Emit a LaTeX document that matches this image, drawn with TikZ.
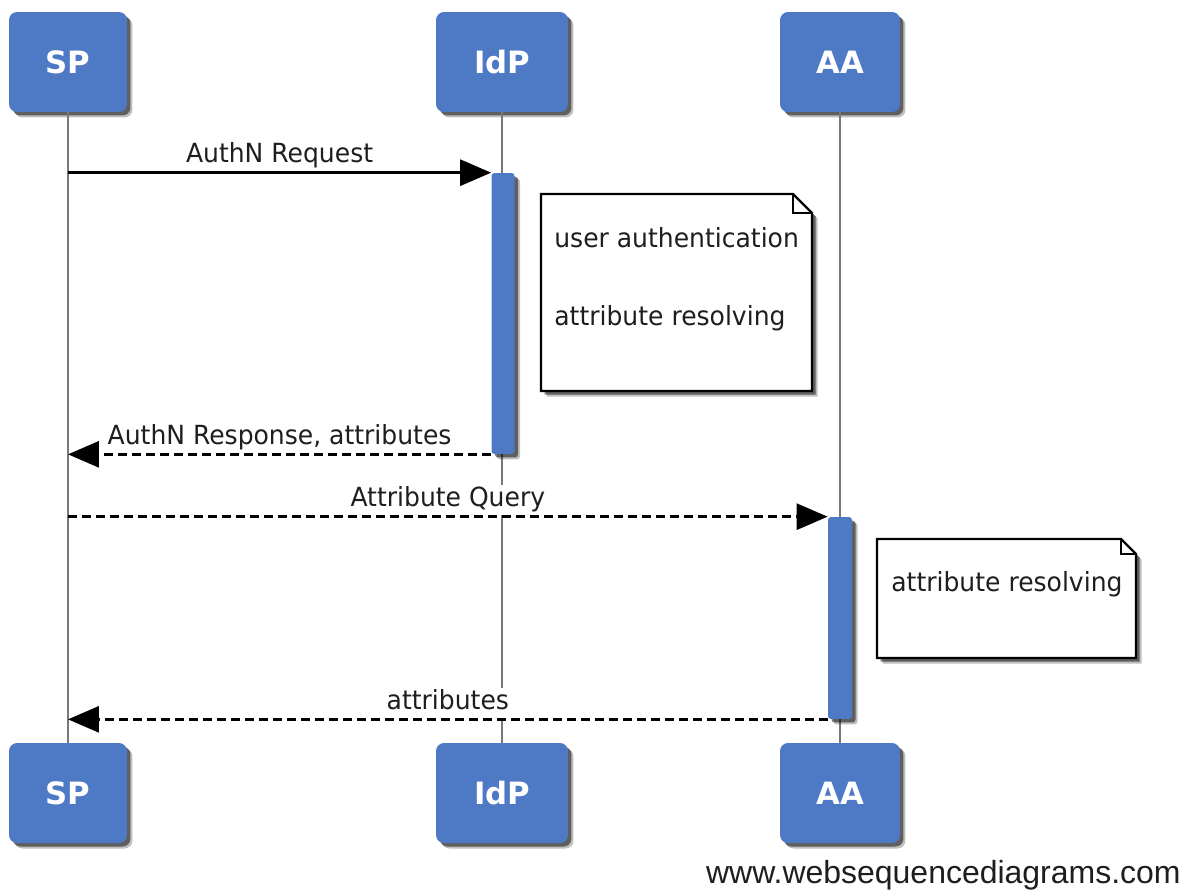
\documentclass[tikz,border=0pt]{standalone}
\usepackage{fontspec}
\setmainfont{DejaVu Sans}
\newfontfamily\msgfont{DejaVu Sans}[FakeStretch=0.95]
\newfontfamily\webfont{Liberation Sans}
\usetikzlibrary{arrows.meta,shadows}
\definecolor{actblue}{RGB}{78,121,197}
\definecolor{lifegray}{RGB}{120,120,120}
\definecolor{txt}{RGB}{30,30,30}
\tikzset{
  shadowed/.style={drop shadow={shadow xshift=0.11cm, shadow yshift=-0.11cm, fill=black, opacity=0.25},
                   drop shadow={shadow xshift=0.07cm, shadow yshift=-0.07cm, fill=black, opacity=0.5}},
  actor/.style={shadowed, fill=actblue, rounded corners=0.16cm, minimum height=2cm, inner sep=0pt,
    text=white, font=\bfseries\fontsize{17.5}{20}\selectfont},
  lifeline/.style={draw=lifegray, line width=0.04cm},
  actbar/.style={shadowed, fill=actblue, rounded corners=0.06cm, inner sep=0pt, minimum width=0.46cm},
  msg/.style={line width=0.06cm, -{Triangle[length=0.62cm,width=0.52cm]}},
  reply/.style={msg, dash pattern=on 0.18cm off 0.1cm},
  msglabel/.style={anchor=south, fill=white, inner sep=0.04cm, text height=11pt, text depth=3.7pt,
    text=txt, font=\msgfont\fontsize{15}{18}\selectfont},
  notebox/.style={shadowed, draw=black, fill=white, line width=0.045cm},
  notefold/.style={draw=black, line width=0.035cm},
  notetext/.style={anchor=base west, inner sep=0pt, text=txt, font=\msgfont\fontsize{15}{18}\selectfont},
}
\begin{document}
\begin{tikzpicture}[x=0.02cm, y=-0.02cm]
\useasboundingbox (0,0) rectangle (1187,890);
\fill[white] (0,0) rectangle (1187,890);

% participants
\node[actor, minimum width=2.36cm] (sp)  at (68,62)  {SP};
\node[actor, minimum width=2.64cm] (idp) at (502,62) {IdP};
\node[actor, minimum width=2.40cm] (aa)  at (840,62) {AA};
\node[actor, minimum width=2.36cm] (spb)  at (68,793)  {SP};
\node[actor, minimum width=2.64cm] (idpb) at (502,793) {IdP};
\node[actor, minimum width=2.40cm] (aab)  at (840,793) {AA};

% lifelines
\draw[lifeline] (sp.south) -- (spb.north);
\draw[lifeline] (idp.south) -- (idpb.north);
\draw[lifeline] (aa.south) -- (aab.north);

% activation bars
\node[actbar, minimum height=5.62cm] (idpact) at (503,313.5) {};
\node[actbar, minimum height=4.04cm, minimum width=0.48cm] (aaact) at (840,618) {};

% notes
\path[notebox] (541,194) -- (793,194) -- (812,213) -- (812,391) -- (541,391) -- cycle;
\draw[notefold] (793,194) -- (793,213) -- (812,213);
\node[notetext] (n1a) at (554,247) {user authentication};
\node[notetext] (n1b) at (554,325) {attribute resolving};

\path[notebox] (877,539) -- (1121,539) -- (1136,554) -- (1136,658) -- (877,658) -- cycle;
\draw[notefold] (1121,539) -- (1121,554) -- (1136,554);
\node[notetext] (n2a) at (891,591) {attribute resolving};

% messages
\draw[msg] (sp |- idpact.north west) -- node[msglabel] (l1) {AuthN Request} (idpact.north west);
\draw[reply] (idpact.south west) -- node[msglabel] (l2) {AuthN Response, attributes} (sp |- idpact.south west);
\draw[reply] (sp |- aaact.north west) -- node[msglabel] (l3) {Attribute Query} (aaact.north west);
\draw[reply] (aaact.south west) -- node[msglabel] (l4) {attributes} (sp |- aaact.south west);

% footer
\node[anchor=base east, inner sep=0pt, text=txt, font=\webfont\fontsize{18.2}{20}\selectfont] (wsd) at (1181,883) {www.websequencediagrams.com};
\end{tikzpicture}
\end{document}
